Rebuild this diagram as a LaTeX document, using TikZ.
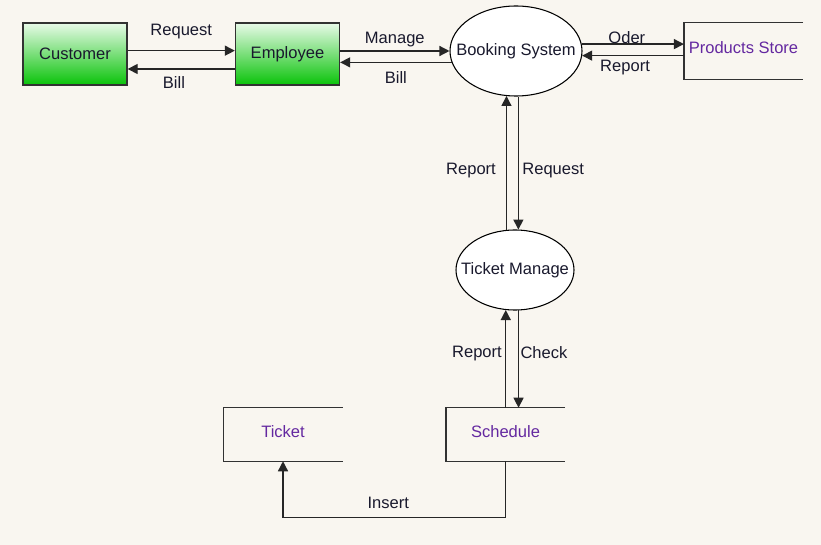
\documentclass[tikz,border=0pt]{standalone}
\usepackage{fontspec}
\setmainfont{Liberation Sans}
\usepackage{tikz}
\usetikzlibrary{shapes.geometric,arrows.meta}
\definecolor{paper}{RGB}{249,246,240}
\definecolor{ink}{RGB}{25,25,45}
\definecolor{storeink}{RGB}{100,40,160}
\definecolor{boxtop}{RGB}{232,250,232}
\definecolor{boxbot}{RGB}{10,195,10}
\definecolor{edge}{RGB}{50,50,50}

\begin{document}
\begin{tikzpicture}[x=0.75pt, y=-0.75pt, font=\fontsize{12.4}{14}\selectfont, text=ink,
    entity/.style={draw=edge, line width=1pt, top color=boxtop, bottom color=boxbot, minimum width=78pt, minimum height=46.5pt, inner sep=0pt},
    proc/.style={ellipse, draw=black, line width=0.8pt, fill=white, inner ysep=0pt, inner xsep=-10pt},
    store/.style={text=storeink, minimum width=89pt, minimum height=42pt, inner sep=0pt, text depth=5pt},
    flow/.style={draw=black!85, line width=1pt, -{Triangle[length=7.5pt,width=7.5pt]}},
    lbl/.style={inner sep=1pt, text depth=0pt}]
    \fill[paper] (0,0) rectangle (821,545);
    \useasboundingbox (0,0) rectangle (821,545);

    % entities, processes, stores
    \node[entity] (cust) at (75,54) {Customer};
    \node[entity] (emp) at (287.5,54) {Employee};
    \node[proc, minimum width=99pt, minimum height=67.5pt] (book) at (516,51) {Booking System};
    \node[store] (prod) at (743.5,51) {Products Store};
    \node[proc, minimum width=88.5pt, minimum height=60pt] (tm) at (515,270) {Ticket Manage};
    \node[store, minimum height=39.75pt] (ticket) at (283,434.5) {Ticket};
    \node[store, minimum height=39.75pt] (sched) at (505.5,434.5) {Schedule};
    \foreach \s in {prod,ticket,sched}
        \draw[edge, line width=1pt] (\s.north east) -- (\s.north west) -- (\s.south west) -- (\s.south east);

    % flows
    \draw[flow] ([yshift=2.5pt]cust.east) -- node[lbl, yshift=16pt]{Request} ([yshift=2.5pt]emp.west);
    \draw[flow] ([yshift=-11.25pt]emp.west) -- node[lbl, yshift=-10.5pt, xshift=-5.5pt]{Bill} ([yshift=-11.25pt]cust.east);
    \draw[flow] (emp.east |- book.west) -- node[lbl, yshift=9.75pt]{Manage} (book.west);
    \draw[flow] (book.190.7) -- node[lbl, yshift=-11.25pt]{Bill} (book.190.7 -| emp.east);
    \draw[flow] (book.6.1) -- node[lbl, yshift=5.25pt, xshift=-4.5pt]{Oder} (book.6.1 -| prod.west);
    \draw[flow] (book.356.5 -| prod.west) -- node[lbl, yshift=-7.5pt, xshift=-6pt]{Report} (book.356.5);
    \draw[flow] (tm.102.8) -- node[lbl, anchor=east, xshift=-6.5pt, yshift=-4.5pt]{Report} (tm.102.8 |- book.257.3);
    \draw[flow] (book.273.8) -- node[lbl, anchor=west, xshift=1.5pt, yshift=-4.5pt]{Request} (book.273.8 |- tm.84.3);
    \draw[flow] (tm.257.2 |- sched.north) -- node[lbl, anchor=east, xshift=-1.5pt, yshift=5.25pt]{Report} (tm.257.2);
    \draw[flow] (tm.275.7) -- node[lbl, anchor=west, xshift=0pt, yshift=5.25pt]{Check} (tm.275.7 |- sched.north);
    \draw[flow] (sched.south) |- node[lbl, pos=0.75, yshift=10.5pt, xshift=-4.5pt]{Insert} ([yshift=-42pt]ticket.south) -- (ticket.south);
\end{tikzpicture}
\end{document}
